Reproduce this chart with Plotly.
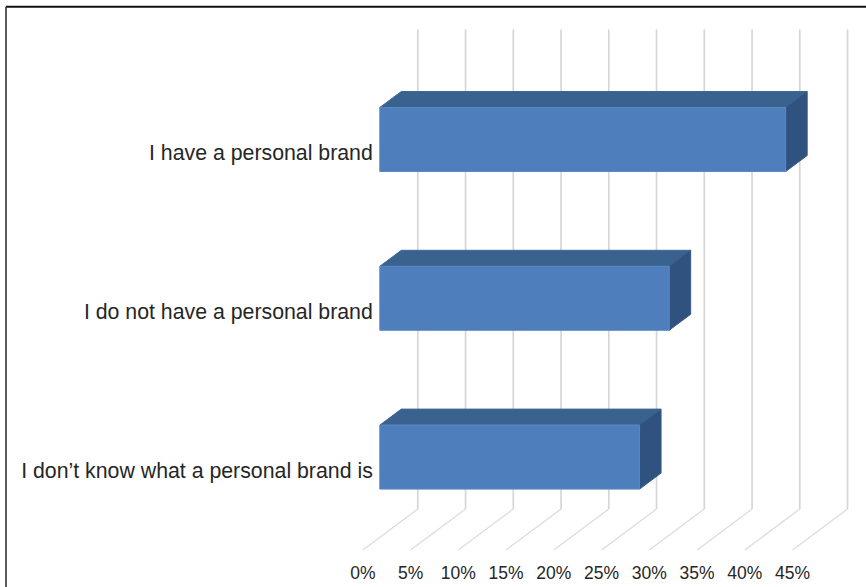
import plotly.graph_objects as go

# Survey answers and their shares, in percent
categories = ["I have a personal brand", "I do not have a personal brand",
              "I don\u2019t know what a personal brand is"]
shares = [42.5, 30.3, 27.2]
tick_values = [0, 5, 10, 15, 20, 25, 30, 35, 40, 45]
tick_labels = ["0%", "5%", "10%", "15%", "20%", "25%", "30%", "35%", "40%", "45%"]

WIDTH, HEIGHT = 866, 587

# Pixel scale of the oblique projection
PX_PER_PCT = 9.55
ZERO_X = 362.8          # 0% on the front edge of the floor
FIRST_ROW_Y = 139.5     # centre of the first bar's front face
ROW_STEP = 158.8        # pixels between rows
FLOOR_Y = 550.0
WALL_TOP_Y = 29.5
WALL_BOTTOM_Y = 509.0
WALL_SHIFT_X = 55.0
BAR_FRONT_X = 17.0      # depth of the bar's front face behind the floor edge
BAR_DEPTH_X = 21.5
BAR_DEPTH_Y = 16.0
BAR_HALF = 32.0


def dx(px):
    return px / PX_PER_PCT


def row(py):
    return (py - FIRST_ROW_Y) / ROW_STEP


def dy(px):
    return px / ROW_STEP


fig = go.Figure()

# Back wall and floor grid lines, one per tick
wall_x, wall_y, floor_x, floor_y = [], [], [], []
for v in tick_values:
    wall_x += [v + dx(WALL_SHIFT_X), v + dx(WALL_SHIFT_X), None]
    wall_y += [row(WALL_TOP_Y), row(WALL_BOTTOM_Y), None]
    floor_x += [v + dx(WALL_SHIFT_X), v, None]
    floor_y += [row(WALL_BOTTOM_Y), row(FLOOR_Y), None]
fig.add_trace(go.Scatter(x=wall_x, y=wall_y, mode="lines",
                         line=dict(color="#d6d6d6", width=1.7), hoverinfo="skip"))
fig.add_trace(go.Scatter(x=floor_x, y=floor_y, mode="lines",
                         line=dict(color="#dcdcdc", width=1.3), hoverinfo="skip"))


def face(xs, ys, fill, edge):
    fig.add_trace(go.Scatter(x=xs + xs[:1], y=ys + ys[:1], mode="lines", fill="toself",
                             fillcolor=fill, line=dict(color=edge, width=1),
                             hoverinfo="skip"))


# Each bar is three faces: top, end cap, front
for i, share in enumerate(shares):
    x0 = dx(BAR_FRONT_X)
    x1 = share + x0
    d_x, d_y, half = dx(BAR_DEPTH_X), dy(BAR_DEPTH_Y), dy(BAR_HALF)
    top, bottom = i - half, i + half
    face([x0, x0 + d_x, x1 + d_x, x1], [top, top - d_y, top - d_y, top], "#3a628f", "#3f6898")
    face([x1, x1 + d_x, x1 + d_x, x1], [top, top - d_y, bottom - d_y, bottom], "#30527e", "#355a88")
    face([x0, x1, x1, x0], [top, top, bottom, bottom], "#4f7ebc", "#5a88c2")

font = dict(family="Liberation Sans, Arial, sans-serif", color="#262626")

fig.update_layout(
    width=WIDTH, height=HEIGHT,
    margin=dict(l=0, r=0, t=0, b=0),
    paper_bgcolor="#ffffff", plot_bgcolor="rgba(0,0,0,0)",
    showlegend=False,
    xaxis=dict(
        range=[dx(-ZERO_X), dx(WIDTH - ZERO_X)], domain=[0, 1],
        anchor="free", position=(HEIGHT - 560.5) / HEIGHT,
        tickvals=tick_values, ticktext=tick_labels, ticks="",
        showgrid=False, zeroline=False, showline=False,
        tickfont=dict(size=17.5, **font),
    ),
    yaxis=dict(
        range=[row(HEIGHT), row(0)], domain=[0, 1],
        anchor="free", position=(ZERO_X + BAR_FRONT_X) / WIDTH,
        tickvals=list(range(len(categories))), ticktext=categories, ticks="",
        ticklabelstandoff=7, ticklabelshift=-13,
        showgrid=False, zeroline=False, showline=False,
        tickfont=dict(size=21.3, **font),
    ),
    shapes=[
        dict(type="line", xref="paper", yref="paper", x0=6 / WIDTH, x1=1,
             y0=1 - 6.7 / HEIGHT, y1=1 - 6.7 / HEIGHT, line=dict(color="#111111", width=2)),
        dict(type="line", xref="paper", yref="paper", x0=6 / WIDTH, x1=6 / WIDTH,
             y0=0, y1=1 - 6.7 / HEIGHT, line=dict(color="#333333", width=1.6)),
    ],
)

fig.write_html("out.html", config=dict(displayModeBar=False))
